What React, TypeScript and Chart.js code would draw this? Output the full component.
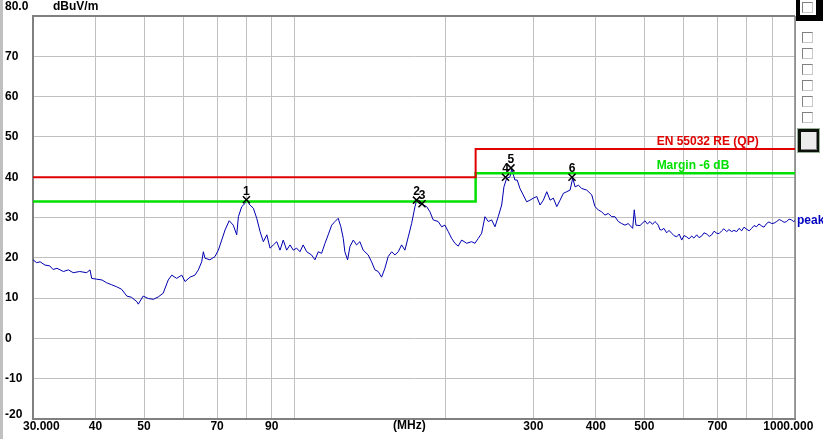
import React, { useEffect, useRef } from 'react';
import { Chart, registerables } from 'chart.js';

Chart.register(...registerables);

const FONT = '"Liberation Sans", Arial, sans-serif';

// Measured trace (peak detector), frequency in MHz, level in dBuV/m
const traceFreq = [
  30.0, 30.5, 31.0, 31.7, 32.4, 32.9, 33.5, 34.5, 35.3, 36.1,
  37.2, 38.4, 39.0, 39.3, 40.2, 41.2, 42.1, 43.1, 44.1, 45.1,
  46.2, 47.2, 48.4, 48.7, 49.8, 51.0, 52.2, 53.4, 54.6, 55.9,
  56.8, 58.1, 59.5, 60.4, 61.8, 63.2, 64.2, 65.2, 65.7, 66.2,
  67.7, 69.3, 70.4, 71.5, 72.6, 74.0, 75.4, 76.6, 77.2,
  78.4, 79.6, 80.2, 81.4, 82.7, 84.0, 85.3, 86.6, 88.0, 89.3,
  90.7, 92.1, 93.5, 94.9, 96.4, 97.9, 99.4, 100.9, 102.5, 104.0,
  105.7, 108.1, 109.8, 111.5, 113.2, 115.0, 116.7, 118.6, 120.4, 122.2,
  123.7, 125.1, 126.0, 127.6, 129.0, 131.0, 133.0, 135.0, 137.1, 140.3,
  142.5, 144.7, 146.9, 149.2, 151.5, 153.8, 156.3, 158.6, 161.1, 163.6,
  166.1, 168.7, 171.3, 174.0, 175.3, 178.0, 180.7, 183.6, 186.4, 189.2,
  193.6, 196.7, 199.7,
  202.8, 206.0, 209.1, 212.3, 215.7, 220.7, 225.8, 229.3, 232.8, 236.5,
  240.1, 243.8, 247.6, 251.4, 255.2, 259.3, 262.0, 265.3, 269.4, 271.5,
  275.6, 278.5, 282.0, 286.3, 290.9, 295.3, 300.0, 304.7, 309.4, 314.1,
  319.1, 324.0, 328.9, 334.1, 339.2, 344.4, 349.8, 355.2, 359.6, 363.5,
  369.0, 374.8, 383.6, 392.5, 398.3, 404.4, 410.8, 417.1, 423.5, 430.2,
  436.7, 443.4, 450.4, 457.3, 464.3, 473.8, 477.3, 481.0, 490.0,
  501.4, 507, 513.1, 519, 525.0, 529, 533.0, 537, 541.4, 547,
  554.0, 560, 566.9, 573, 580.1, 587, 593.7, 600, 607.5, 614,
  621.6, 628, 636.1, 643, 650.9, 658, 666.1, 674, 681.6, 689,
  697.4, 705, 713.7, 721, 730.3, 738, 747.3, 755, 764.7, 773,
  782.5, 791, 800.0, 810, 819.0, 828, 838.1, 847, 857.6, 867,
  877.5, 887, 898.3, 908, 919.3, 930, 940.7, 951, 962.6, 973,
  985.0, 992, 1000,
];

const traceLevel = [
  19.5, 18.8, 19.0, 18.2, 18.0, 17.1, 17.4, 16.6, 17.0, 16.3,
  16.6, 16.3, 17.0, 14.9, 14.7, 14.5, 13.8, 13.3, 12.8, 12.2,
  10.5, 10.2, 9.1, 8.5, 10.5, 9.9, 9.7, 10.3, 11.2, 14.5,
  15.7, 14.9, 15.7, 14.1, 15.2, 15.7, 17.0, 19.0, 21.5, 19.9,
  19.5, 20.3, 21.9, 24.4, 26.9, 29.2, 28.1, 25.7, 30.2,
  32.7, 33.5, 34.3, 33.1, 32.3, 29.8, 26.5, 24.0, 25.7, 22.4,
  23.2, 24.0, 21.9, 24.4, 21.9, 23.2, 21.9, 22.4, 21.5, 23.2,
  21.5, 20.7, 19.5, 21.5, 21.1, 23.6, 25.7, 28.1, 29.0, 29.8,
  27.7, 24.8, 21.5, 19.5, 22.8, 24.4, 23.2, 24.0, 21.9, 20.7,
  19.0, 17.0, 16.6, 15.2, 17.4, 20.3, 21.5, 20.7, 21.5, 23.2,
  21.9, 25.2, 28.5, 32.7, 34.2, 33.5, 33.1, 32.7, 31.4, 29.4,
  29.0, 27.7, 28.1,
  26.5, 24.8, 23.6, 22.9, 24.4, 23.6, 24.0, 23.6, 24.8, 26.1,
  30.2, 29.0, 29.4, 27.7, 30.2, 33.1, 37.6, 39.7, 40.1, 42.0,
  39.3, 39.3, 37.2, 35.6, 33.9, 34.3, 34.8, 35.2, 33.1, 34.3,
  36.4, 34.3, 34.8, 32.7, 34.3, 36.0, 36.4, 36.8, 39.8, 37.6,
  38.0, 37.2, 36.8, 35.6, 32.7, 31.9, 31.4, 30.6, 31.0, 30.2,
  30.2, 29.0, 28.5, 28.1, 28.5, 27.3, 31.9, 28.1, 28.0,
  29.2, 28.4, 29.0, 28.3, 29.0, 28.6, 28.1, 27.0, 26.9, 27.3,
  26.2, 26.8, 26.1, 25.5, 25.2, 25.9, 24.4, 25.5, 25.2, 24.7,
  25.4, 24.9, 25.7, 25.0, 25.4, 26.2, 25.9, 25.3, 25.7, 26.6,
  26.1, 26.0, 26.7, 27.2, 26.5, 27.0, 26.5, 26.8, 26.5, 27.3,
  26.7, 27.6, 27.1, 26.7, 27.3, 28.0, 27.7, 28.4, 27.9, 27.6,
  28.5, 28.9, 28.5, 28.6, 29.0, 29.5, 29.2, 28.8, 29.0, 29.6,
  29.4, 29.0, 29.2,
];

// Limit line EN 55032 RE (QP) and the -6 dB margin line
const limitFreq = [30, 230, 230, 1000];
const limitQP = [40, 40, 47, 47];
const marginLevel = [34, 34, 41, 41];

// Markers
const markerNo = ['1', '2', '3', '4', '5', '6'];
const markerFreq = [80.1, 175.2, 179.7, 263.9, 270.6, 358.4];
const markerLevel = [34.4, 34.3, 33.4, 40.0, 42.3, 40.0];

// Axis ticks
const xTicks = [30, 40, 50, 60, 70, 80, 90, 100, 200, 300, 400, 500, 600, 700, 800, 900, 1000];
const xTickLabels = ['     30.000', '40', '50', '', '70', '', '90', '', '', '300', '400', '500', '', '700', '', '', '1000.000    '];
const yMin = -20;
const yMax = 80;
const yStep = 10;

const limitLabel = 'EN 55032 RE (QP)';
const marginLabel = 'Margin -6 dB';
const traceLabel = 'peak';
const yUnit = 'dBuV/m';
const xUnit = '(MHz)';
const LABEL_FREQ = 529;

const decoPlugin = {
  id: 'deco',
  beforeDraw(chart: any) {
    const { ctx, width, height } = chart;
    ctx.save();
    ctx.fillStyle = '#ffffff';
    ctx.fillRect(0, 0, width, height);
    ctx.fillStyle = '#c0c0c0';
    ctx.fillRect(0, 0, 3, height);
    ctx.restore();
  },
  beforeDatasetsDraw(chart: any) {
    const { ctx, chartArea } = chart;
    ctx.save();
    ctx.strokeStyle = '#808080';
    ctx.lineWidth = 2;
    ctx.beginPath();
    ctx.moveTo(chartArea.left, chartArea.top);
    ctx.lineTo(chartArea.right, chartArea.top);
    ctx.stroke();
    ctx.lineWidth = 1.5;
    ctx.beginPath();
    ctx.moveTo(chartArea.right, chartArea.top);
    ctx.lineTo(chartArea.right, chartArea.bottom);
    ctx.stroke();
    ctx.restore();
  },
  afterDraw(chart: any) {
    const { ctx } = chart;
    const xs = chart.scales.x;
    const ys = chart.scales.y;
    ctx.save();
    ctx.font = `bold 12px ${FONT}`;
    ctx.fillStyle = '#000';
    ctx.textBaseline = 'middle';
    ctx.textAlign = 'left';
    ctx.fillText(yMax.toFixed(1), 5, 6.5);
    ctx.fillText(String(yMin), 5, 414.5);
    ctx.fillText(yUnit, 53, 6.5);
    ctx.fillText(xUnit, 393, 426);

    // limit labels
    ctx.textBaseline = 'alphabetic';
    ctx.fillStyle = '#e00000';
    ctx.fillText(limitLabel, xs.getPixelForValue(LABEL_FREQ), ys.getPixelForValue(limitQP[3]) - 3.5);
    ctx.fillStyle = '#00e000';
    ctx.fillText(marginLabel, xs.getPixelForValue(LABEL_FREQ), ys.getPixelForValue(marginLevel[3]) - 4.5);

    // trace label
    ctx.fillStyle = '#0000c0';
    ctx.textBaseline = 'middle';
    ctx.fillText(traceLabel, xs.right + 2, ys.getPixelForValue(traceLevel[traceLevel.length - 1]));

    // marker numbers
    const meta = chart.getDatasetMeta(0);
    ctx.fillStyle = '#000';
    ctx.textAlign = 'center';
    ctx.textBaseline = 'alphabetic';
    meta.data.forEach((pt: any, i: number) => {
      ctx.fillText(markerNo[i], pt.x, pt.y - 5);
    });
    ctx.restore();
  },
};

const boxStyle = (left: number, top: number): React.CSSProperties => ({
  position: 'absolute',
  left,
  top,
  width: 9,
  height: 9,
  background: '#fff',
  borderTop: '1px solid #808080',
  borderLeft: '1px solid #808080',
  borderRight: '1px solid #c8c8c8',
  borderBottom: '1px solid #c8c8c8',
});

const smallBoxTops = [32, 48, 64, 80, 96, 112];

export default function App() {
  const canvasRef = useRef<HTMLCanvasElement>(null);

  useEffect(() => {
    const canvas = canvasRef.current;
    if (!canvas) return;
    const tickFont = { family: FONT, size: 12, weight: 'bold' as const };
    const chart = new Chart(canvas, {
      type: 'line',
      data: {
        datasets: [
          {
            label: 'markers',
            data: markerFreq.map((f, i) => ({ x: f, y: markerLevel[i] })),
            showLine: false,
            pointStyle: 'crossRot',
            pointRadius: 5,
            pointBorderColor: '#000',
            pointBorderWidth: 1.5,
            borderColor: '#000',
            backgroundColor: '#000',
          },
          {
            label: limitLabel,
            data: limitFreq.map((f, i) => ({ x: f, y: limitQP[i] })),
            borderColor: '#e00000',
            borderWidth: 2,
            pointRadius: 0,
            tension: 0,
          },
          {
            label: marginLabel,
            data: limitFreq.map((f, i) => ({ x: f, y: marginLevel[i] })),
            borderColor: '#00e000',
            borderWidth: 2.5,
            pointRadius: 0,
            tension: 0,
          },
          {
            label: traceLabel,
            data: traceFreq.map((f, i) => ({ x: f, y: traceLevel[i] })),
            borderColor: '#0000b0',
            borderWidth: 1,
            pointRadius: 0,
            tension: 0,
          },
        ],
      },
      options: {
        responsive: false,
        animation: false,
        devicePixelRatio: 1,
        events: [],
        layout: { padding: { left: 5, top: 16, right: 28, bottom: 0 } },
        plugins: { legend: { display: false }, tooltip: { enabled: false } },
        scales: {
          x: {
            type: 'logarithmic',
            min: 30,
            max: 1000,
            afterBuildTicks: (scale: any) => {
              scale.ticks = xTicks.map((v) => ({ value: v }));
            },
            afterFit: (scale: any) => {
              scale.height = 20;
              scale.paddingLeft = 0;
              scale.paddingRight = 0;
            },
            grid: { color: '#c0c0c0', lineWidth: 1, drawTicks: false },
            border: { color: '#808080', width: 2 },
            ticks: {
              autoSkip: false,
              maxRotation: 0,
              minRotation: 0,
              padding: 0,
              color: '#000',
              font: tickFont,
              callback: (value: any) => {
                const i = xTicks.indexOf(Number(value));
                return i >= 0 ? xTickLabels[i] : '';
              },
            },
          },
          y: {
            type: 'linear',
            min: yMin,
            max: yMax,
            afterFit: (scale: any) => {
              scale.width = 28;
              scale.paddingTop = 0;
              scale.paddingBottom = 0;
            },
            grid: { color: '#c0c0c0', lineWidth: 1, drawTicks: false },
            border: { color: '#808080', width: 2 },
            ticks: {
              stepSize: yStep,
              crossAlign: 'far',
              padding: 0,
              color: '#000',
              font: tickFont,
              callback: (value: any) => (value === yMax || value === yMin ? '' : String(value)),
            },
          },
        },
      } as any,
      plugins: [decoPlugin],
    });
    return () => chart.destroy();
  }, []);

  return (
    <div style={{ position: 'fixed', left: 0, top: 0, width: 823, height: 439, background: '#fff', overflow: 'hidden' }}>
      <canvas ref={canvasRef} width={823} height={439} style={{ display: 'block', width: 823, height: 439 }} />
      <div style={{ position: 'absolute', left: 796, top: 0, width: 27, height: 21, background: '#000' }} />
      <div style={{ position: 'absolute', left: 800, top: 0, width: 16, height: 15, background: '#fff' }} />
      <div style={boxStyle(802, 2)} />
      {smallBoxTops.map((t) => (
        <div key={t} style={boxStyle(802, t)} />
      ))}
      <div style={{ position: 'absolute', left: 797, top: 128, width: 23, height: 25, background: '#0a120a', boxShadow: 'inset 0 0 0 1px #9ab09a' }} />
      <div style={{ position: 'absolute', left: 801, top: 132, width: 15, height: 17, background: '#ececec', borderRight: '1px solid #808080', borderBottom: '1px solid #808080' }} />
    </div>
  );
}
